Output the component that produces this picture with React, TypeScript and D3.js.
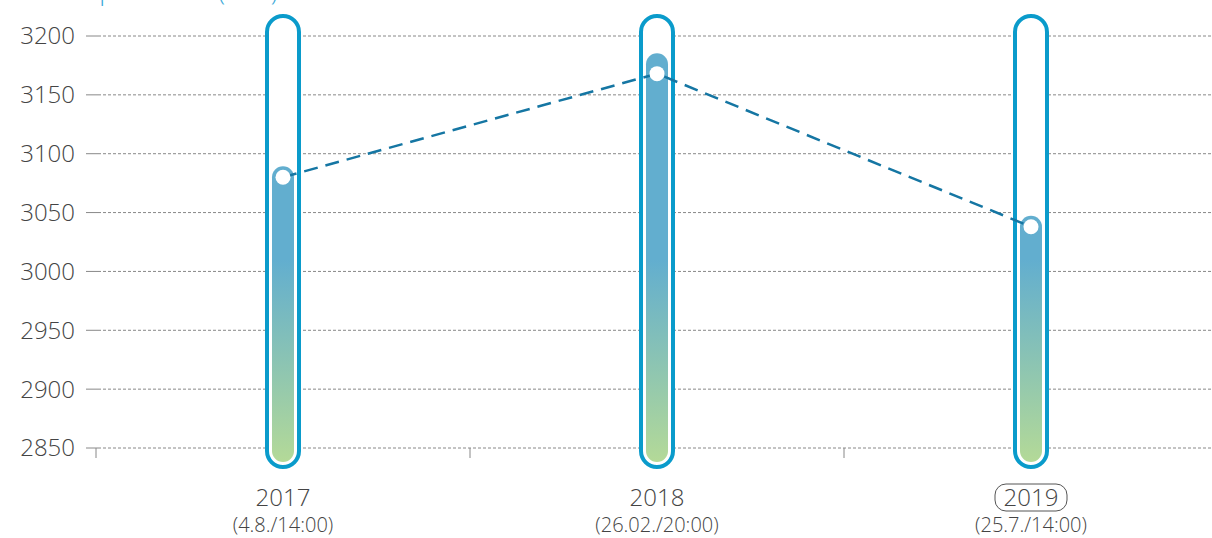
import React from "react";
import * as d3 from "d3";

const years = ["2017", "2018", "2019"];
const dates = ["(4.8./14:00)", "(26.02./20:00)", "(25.7./14:00)"];
const barValues = [3080, 3176, 3038];
const pointValues = [3080, 3168, 3038];
const yTicks = [2850, 2900, 2950, 3000, 3050, 3100, 3150, 3200];
const highlighted = ["2019"];
const title = "Spitzenlast (MW)";

const W = 1212;
const H = 538;

export default function App() {
  const y = d3.scaleLinear().domain([2850, 3200]).range([448, 36]);
  const x = d3.scaleBand().domain(years).range([96, 1218]).padding(0);
  const cx = (d: string) => (x(d) as number) + x.bandwidth() / 2;
  const font = "'Open Sans', Lato, sans-serif";
  const line = d3
    .line<number>()
    .x((_, i) => cx(years[i]))
    .y((v) => y(v));
  const barW = 22;
  const tubeW = 32;
  const barBottom = 462;
  return (
    <div style={{ position: "absolute", left: 0, top: 0 }}>
      <svg width={W} height={H} style={{ display: "block" }}>
        <defs>
          <linearGradient id="barGrad" gradientUnits="userSpaceOnUse" x1="0" x2="0" y1={260} y2={460}>
            <stop offset="0" stopColor="#62aecf" />
            <stop offset="1" stopColor="#b3d998" />
          </linearGradient>
        </defs>
        <text x={85} y={0} fontFamily={font} fontWeight={300} fontSize={26} fill="#3aa8d8">
          {title}
        </text>
        {yTicks.map((t) => (
          <g key={t}>
            <line x1={86} x2={98} y1={y(t)} y2={y(t)} stroke="#888" strokeWidth={1} />
            <line x1={98} x2={W} y1={y(t)} y2={y(t)} stroke="#888" strokeWidth={1} strokeDasharray="3,2" />
            <text
              x={75}
              y={y(t)}
              dy="0.35em"
              textAnchor="end"
              fontFamily={font}
              fontWeight={300}
              fontSize={24}
              fill="#444"
            >
              {t}
            </text>
          </g>
        ))}
        {years.map((d) => (
          <line key={d} x1={x(d)} x2={x(d)} y1={448} y2={458} stroke="#888" strokeWidth={1} />
        ))}
        {years.map((d, i) => {
          const c = cx(d);
          const top = y(barValues[i]) - barW / 2;
          return (
            <g key={d}>
              <rect
                x={c - tubeW / 2}
                y={16}
                width={tubeW}
                height={451}
                rx={tubeW / 2}
                fill="#fff"
                stroke="#0a9bcb"
                strokeWidth={4}
              />
              <rect
                x={c - barW / 2}
                y={top}
                width={barW}
                height={barBottom - top}
                rx={barW / 2}
                fill="url(#barGrad)"
              />
            </g>
          );
        })}
        <path
          d={line(pointValues) || ""}
          fill="none"
          stroke="#1576a3"
          strokeWidth={2.5}
          strokeDasharray="14,8"
        />
        {years.map((d, i) => (
          <circle key={d} cx={cx(d)} cy={y(pointValues[i])} r={7.5} fill="#fff" />
        ))}
        {years.map((d, i) => {
          const c = cx(d);
          const hl = highlighted.includes(d);
          return (
            <g key={d}>
              {hl && (
                <rect x={c - 36} y={484} width={72} height={27} rx={11} fill="none" stroke="#555" strokeWidth={1} />
              )}
              <text x={c} y={498} dy="0.35em" textAnchor="middle" fontFamily={font} fontWeight={300} fontSize={24} fill="#444">
                {d}
              </text>
              <text x={c} y={525} dy="0.35em" textAnchor="middle" fontFamily={font} fontWeight={300} fontSize={20} fill="#444">
                {dates[i]}
              </text>
            </g>
          );
        })}
      </svg>
    </div>
  );
}
